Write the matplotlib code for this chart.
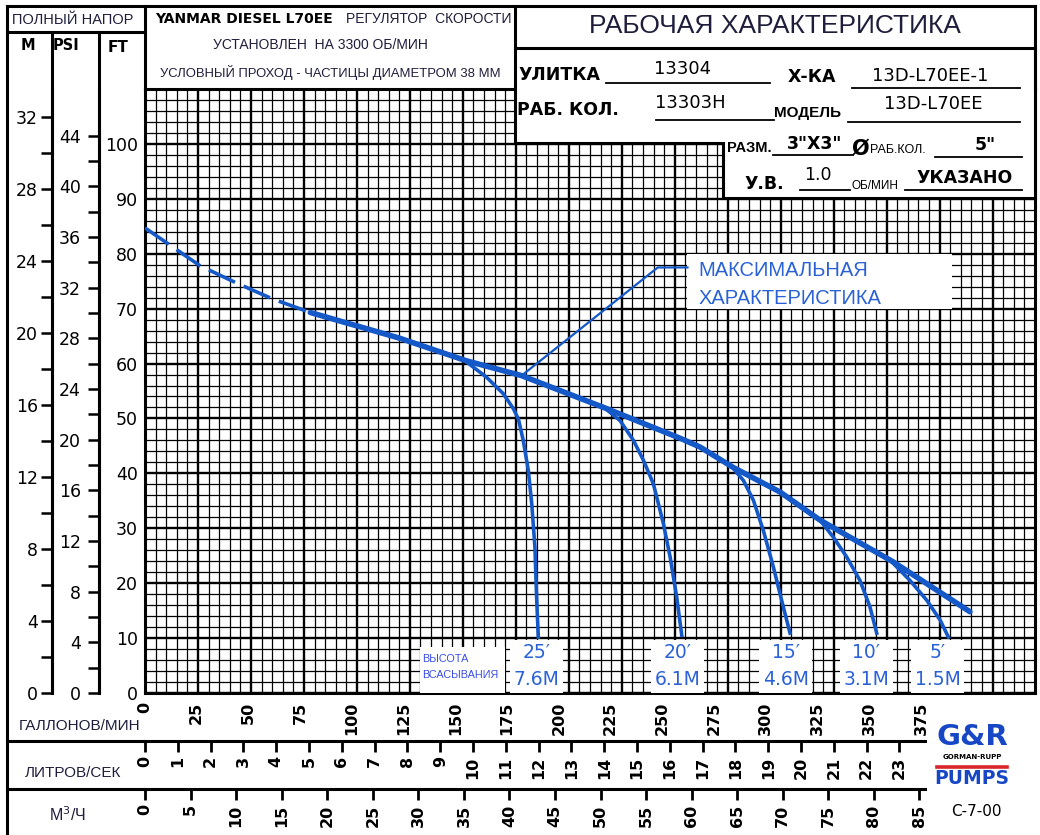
import numpy as np
import matplotlib.pyplot as plt
from matplotlib.lines import Line2D
from matplotlib.patches import Rectangle, Polygon

# ---- data (gpm / feet) ----
MAX_GPM = [0, 26, 43, 60, 78, 107.7, 120.3, 151.7, 177.7, 217.8, 252.5, 261.9, 277.5, 299.7,
           318.5, 353, 389.3]
MAX_FT = [84.7, 77.8, 74.7, 71.8, 69.3, 66.0, 64.6, 60.5, 57.8, 51.8, 46.4, 44.8, 41.1, 36.6,
          31.5, 23.9, 14.8]
DASH_END_GPM = 78
LEADER_FROM = 8  # index of the point the caption leader starts at

LIFT_25_GPM = [151.7, 161.2, 169.1, 173.8, 176.2, 178.5, 180.9, 182.5, 184.0, 184.8, 185.6]
LIFT_25_FT = [60.3, 57.5, 54.5, 51.8, 49.9, 46.0, 40.5, 34.5, 26.6, 17.5, 10.2]
LIFT_20_GPM = [216.3, 224.2, 230.5, 235.2, 239.9, 244.6, 247.8, 250.9, 253.3]
LIFT_20_FT = [52.1, 49.6, 46.0, 42.4, 38.1, 30.9, 24.8, 17.5, 10.5]
LIFT_15_GPM = [276.1, 282.4, 287.1, 291.8, 296.5, 301.2, 304.4]
LIFT_15_FT = [41.6, 38.7, 35.1, 29.6, 23.0, 15.7, 10.9]
LIFT_10_GPM = [318.5, 324.8, 331.1, 337.4, 342.1, 345.3]
LIFT_10_FT = [31.5, 28.4, 24.8, 20.5, 15.7, 10.9]
LIFT_5_GPM = [351.6, 361.0, 368.9, 375.2, 379.1]
LIFT_5_FT = [24.2, 20.5, 16.9, 13.3, 10.2]
LIFT_FT_LABELS = ["25\u2032", "20\u2032", "15\u2032", "10\u2032", "5\u2032"]
LIFT_M_LABELS = ["7.6M", "6.1M", "4.6M", "3.1M", "1.5M"]

GPM_TICKS = np.arange(0, 376, 25)
LPS_TICKS = np.arange(0, 24)
M3H_TICKS = np.arange(0, 86, 5)
M_TICKS = np.arange(0, 33, 4)
PSI_TICKS = np.arange(0, 45, 4)
FT_TICKS = np.arange(0, 101, 10)

GPM_PER_LPS = 15.8503
GPM_PER_M3H = 4.40287
FT_PER_M = 3.28084
FT_PER_PSI = 2.30666

BLUE = '#1459c7'
LBLUE = '#2a62d6'
DARK = '#1e1e3c'

W, H = 1040, 835
fig = plt.figure(figsize=(W / 100, H / 100), dpi=100)
plt.rcParams['font.family'] = ['DejaVu Sans']


def fx(x):
    return x / W


def fy(y):
    return 1 - y / H


def fline(x0, y0, x1, y1, lw=2.2, color='black'):
    fig.add_artist(Line2D([fx(x0), fx(x1)], [fy(y0), fy(y1)], transform=fig.transFigure,
                          color=color, lw=lw, zorder=6, solid_capstyle='projecting'))


def ftext(x, y, s, size, **kw):
    kw.setdefault('ha', 'center')
    kw.setdefault('va', 'center')
    fig.text(fx(x), fy(y), s, fontsize=size, zorder=7, **kw)


# ---- main grid ----
ax = fig.add_axes([fx(145), fy(693), (1035 - 145) / W, (693 - 89) / H])
ax.set_xlim(0, 420)
ax.set_ylim(0, 110)
ax.set_xticks(np.arange(0, 401, 25))
ax.set_xticks(np.arange(0, 421, 5), minor=True)
ax.set_yticks(FT_TICKS)
ax.set_yticks(np.arange(0, 111, 2), minor=True)
ax.grid(which='major', color='black', lw=1.7)
ax.grid(which='minor', color='black', lw=0.9)
ax.set_axisbelow(True)
ax.tick_params(axis='x', which='both', length=0, labelbottom=False)
ax.tick_params(axis='y', which='both', length=0, labelsize=12.5, pad=5)
for s in ax.spines.values():
    s.set_linewidth(2.2)

# max curve: dashed at low flow, solid afterwards
gpm = np.array(MAX_GPM)
ft = np.array(MAX_FT)
ax.plot(gpm[gpm <= DASH_END_GPM], ft[gpm <= DASH_END_GPM], color=BLUE, lw=2.6,
        dashes=(8, 2.6), zorder=4)
ax.plot(gpm[gpm >= DASH_END_GPM], ft[gpm >= DASH_END_GPM], color=BLUE, lw=4.0,
        solid_capstyle='round', solid_joinstyle='round', zorder=4)

lifts = [(LIFT_25_GPM, LIFT_25_FT), (LIFT_20_GPM, LIFT_20_FT), (LIFT_15_GPM, LIFT_15_FT),
         (LIFT_10_GPM, LIFT_10_FT), (LIFT_5_GPM, LIFT_5_FT)]
label_shift = [-1.0, -2.0, -2.0, -5.0, -5.0]
for (lg, lf), lab_ft, lab_m, dx in zip(lifts, LIFT_FT_LABELS, LIFT_M_LABELS, label_shift):
    ax.plot(lg, lf, color=BLUE, lw=2.6, solid_joinstyle='round', zorder=4)
    xe = lg[-1] + dx
    ax.add_patch(Rectangle((xe - 12.5, 0), 25, 9.7, facecolor='white', edgecolor='none', zorder=3))
    ax.text(xe, 7.4, lab_ft, color=LBLUE, fontsize=13.5, ha='center', va='center', zorder=5)
    ax.text(xe, 2.4, lab_m, color=LBLUE, fontsize=13.5, ha='center', va='center', zorder=5)

# suction lift caption
ax.add_patch(Rectangle((130, 0), 40, 8.3, facecolor='white', edgecolor='none', zorder=3))
ax.text(131, 6.2, 'ВЫСОТА', color='#3a4ee6', fontsize=7.8, ha='left', va='center',
        family='Liberation Sans', zorder=5)
ax.text(131, 3.2, 'ВСАСЫВАНИЯ', color='#3a4ee6', fontsize=7.8, ha='left', va='center',
        family='Liberation Sans', zorder=5)

# max characteristic caption with leader line
ax.add_patch(Rectangle((256, 70), 125, 10, facecolor='white', edgecolor='none', zorder=3))
ax.plot([MAX_GPM[LEADER_FROM], 242, 256], [MAX_FT[LEADER_FROM], 77.5, 77.5], color=BLUE,
        lw=1.6, zorder=4)
ax.text(261, 77.0, 'МАКСИМАЛЬНАЯ', color=LBLUE, fontsize=14.5, ha='left', va='center',
        family='Liberation Sans', zorder=5)
ax.text(261, 71.9, 'ХАРАКТЕРИСТИКА', color=LBLUE, fontsize=14.5, ha='left', va='center',
        family='Liberation Sans', zorder=5)

# ---- metres and psi scales ----
m_ax = ax.secondary_yaxis((52 - 145) / 890, functions=(lambda f: f / FT_PER_M, lambda m: m * FT_PER_M))
m_ax.set_yticks(M_TICKS)
m_ax.set_yticks(np.arange(0, 33, 2), minor=True)
m_ax.tick_params(which='both', length=8, width=1.8, labelsize=12.5, pad=2)

psi_ax = ax.secondary_yaxis((99 - 145) / 890, functions=(lambda f: f / FT_PER_PSI, lambda p: p * FT_PER_PSI))
psi_ax.set_yticks(PSI_TICKS)
psi_ax.set_yticks(np.arange(0, 45, 2), minor=True)
psi_ax.tick_params(which='both', length=8, width=1.8, labelsize=12.5, pad=5)
for a in (m_ax, psi_ax):
    for s in a.spines.values():
        s.set_linewidth(2.2)

# ---- flow scales below the grid ----
PX_PER_GPM = (921 - 145) / 375


def flow_axis(y, x_end):
    a = fig.add_axes([fx(145), fy(y), (x_end - 145) / W, 1e-4])
    a.set_xlim(0, (x_end - 145) / PX_PER_GPM)
    a.yaxis.set_visible(False)
    a.patch.set_visible(False)
    for k in ('top', 'left', 'right'):
        a.spines[k].set_visible(False)
    a.spines['bottom'].set_linewidth(2.2)
    return a


gpm_ax = flow_axis(692, 925)
gpm_ax.spines['bottom'].set_visible(False)
gpm_ax.set_xticks(GPM_TICKS, labels=[str(v) for v in GPM_TICKS])
gpm_ax.tick_params(axis='x', length=0, pad=7, labelrotation=90, labelsize=11.5)

lps_ax = flow_axis(741, 925)
lps_ax.set_xticks(LPS_TICKS * GPM_PER_LPS, labels=[str(v) for v in LPS_TICKS])
lps_ax.tick_params(axis='x', length=8, width=2, pad=3, labelrotation=90, labelsize=11.5)

m3h_ax = flow_axis(789, 925)
m3h_ax.set_xticks(M3H_TICKS * GPM_PER_M3H, labels=[str(v) for v in M3H_TICKS])
m3h_ax.tick_params(axis='x', length=8, width=2, pad=3, labelrotation=90, labelsize=11.5)
for a in (gpm_ax, lps_ax, m3h_ax):
    for t in a.get_xticklabels():
        t.set_fontweight('bold')

# ---- frame lines ----
fline(7, 6, 1035, 6)
fline(7, 6, 7, 835)
fline(7, 32, 145, 32)
fline(52, 32, 52, 692)
fline(99, 32, 99, 692)
fline(145, 6, 145, 89)
fline(7, 741, 145, 741)
fline(7, 789, 145, 789)
fline(515, 6, 515, 48)
fline(1035, 6, 1035, 89)

fig.add_artist(Polygon([(fx(515), fy(48)), (fx(1035), fy(48)), (fx(1035), fy(198)),
                        (fx(723), fy(198)), (fx(723), fy(143)), (fx(515), fy(143))],
                       closed=True, transform=fig.transFigure, facecolor='white',
                       edgecolor='black', lw=2.2, zorder=5))

# ---- header texts ----
ftext(73, 20, 'ПОЛНЫЙ НАПОР', 10.5, color=DARK, family='Liberation Sans')
ftext(28, 45, 'M', 10.5, weight='bold')
ftext(66, 45, 'PSI', 10.5, weight='bold')
ftext(118, 47, 'FT', 11, weight='bold')

ftext(155, 19, 'YANMAR DIESEL L70EE', 10, ha='left', weight='bold')
ftext(512, 19, 'РЕГУЛЯТОР  СКОРОСТИ', 10, ha='right', color=DARK, family='Liberation Sans')
ftext(320, 45, 'УСТАНОВЛЕН  НА 3300 ОБ/МИН', 10, color=DARK, family='Liberation Sans')
ftext(330, 73, 'УСЛОВНЫЙ ПРОХОД - ЧАСТИЦЫ ДИАМЕТРОМ 38 ММ', 9.4, color=DARK, family='Liberation Sans')

ftext(775, 26, 'РАБОЧАЯ ХАРАКТЕРИСТИКА', 19, color=DARK, family='Liberation Sans')

# info block
ftext(518, 75, 'УЛИТКА', 12.5, ha='left', weight='bold')
fline(606, 83, 770, 83, lw=1.3)
ftext(683, 69, '13304', 13)
ftext(788, 77, 'Х-КА', 12.5, ha='left', weight='bold')
fline(852, 88, 1020, 88, lw=1.3)
ftext(930, 76, '13D-L70EE-1', 13)

ftext(517, 110, 'РАБ. КОЛ.', 12.5, ha='left', weight='bold')
fline(656, 120, 774, 120, lw=1.3)
ftext(690, 103, '13303H', 13)
ftext(774, 113, 'МОДЕЛЬ', 11, ha='left', family='Liberation Sans', weight='bold')
fline(848, 122, 1020, 122, lw=1.3)
ftext(933, 104, '13D-L70EE', 13)

ftext(727, 148, 'РАЗМ.', 10.5, ha='left', family='Liberation Sans', weight='bold')
fline(773, 155, 853, 155, lw=1.3)
ftext(815, 144, '3"X3"', 12.5, weight='bold')
ftext(852, 149, '\u00d8', 15, ha='left', weight='bold')
ftext(870, 150, 'РАБ.КОЛ.', 9, ha='left', family='Liberation Sans')
fline(935, 157, 1022, 157, lw=1.3)
ftext(985, 145, '5"', 12.5, weight='bold')

ftext(744, 184, 'У.В.', 12.5, ha='left', weight='bold')
fline(800, 190, 850, 190, lw=1.3)
ftext(818, 175, '1.0', 12.5)
ftext(852, 186, 'ОБ/МИН', 8.5, ha='left', family='Liberation Sans')
ftext(965, 178, 'УКАЗАНО', 12.5, weight='bold')
fline(905, 190, 1022, 190, lw=1.3)

# ---- bottom labels ----
ftext(80, 726, 'ГАЛЛОНОВ/МИН', 11, color=DARK, family='Liberation Sans')
ftext(73, 773, 'ЛИТРОВ/СЕК', 11, color=DARK, family='Liberation Sans')
ftext(67, 815, 'M$^3$/Ч', 11.5, color=DARK, family='Liberation Sans')

# logo and drawing number
ftext(972, 737, 'G&R', 21, weight='heavy', color='#1747c4')
ftext(972, 757, 'GORMAN-RUPP', 5, weight='bold')
fline(937, 767, 1007, 767, lw=2.6, color='#d8262a')
ftext(972, 779, 'PUMPS', 13.5, weight='heavy', color='#1747c4')
ftext(976, 812, 'C-7-00', 11)

fig.savefig('out.png', dpi=100)
